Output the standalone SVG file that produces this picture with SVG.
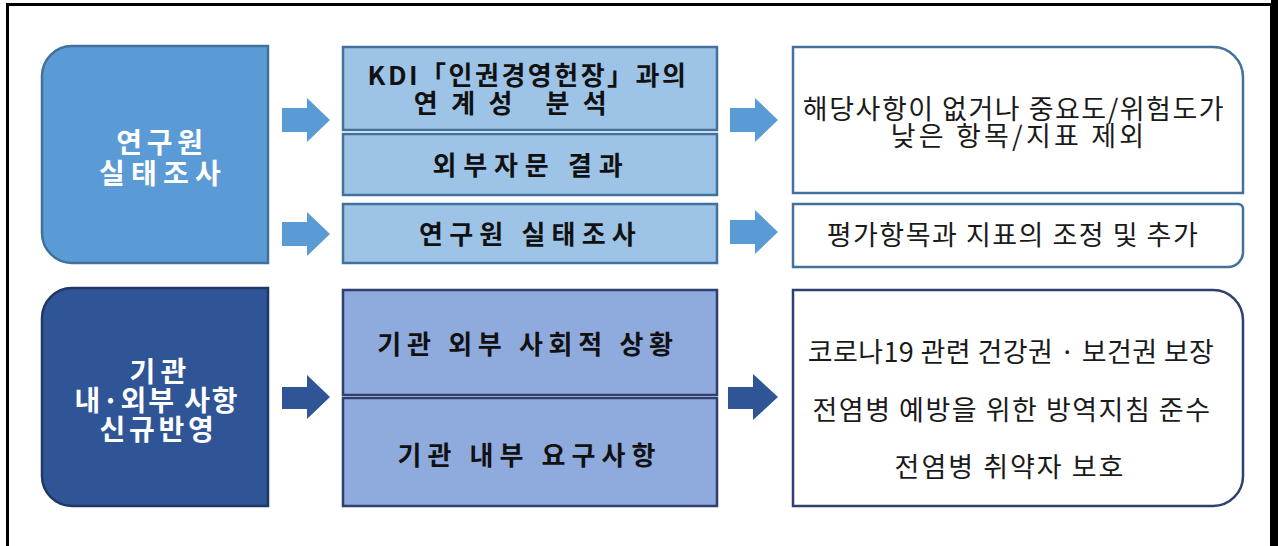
<svg xmlns="http://www.w3.org/2000/svg" width="1278" height="546" viewBox="0 0 1278 546">
<style>
.t{font-family:"Noto Sans CJK KR","Noto Sans",sans-serif;text-anchor:middle}
.w{fill:#ffffff;font-weight:700;font-size:28px}
.b{fill:#111111;font-weight:700;font-size:26px;letter-spacing:6px}
.r{fill:#1a1a1a;font-weight:400;font-size:27px;letter-spacing:1.5px}
.n1{fill:#5b9bd5;stroke:#41719c;stroke-width:2.5}
.n2{fill:#2f5597;stroke:#203864;stroke-width:2.5}
.m1{fill:#9dc3e6;stroke:#41719c;stroke-width:2.5}
.m2{fill:#8faadc;stroke:#2f3f6f;stroke-width:2.5}
.o1{fill:#ffffff;stroke:#41719c;stroke-width:2.5}
.o2{fill:#ffffff;stroke:#2f3f6f;stroke-width:2.5}
.a1{fill:#5b9bd5}
.a2{fill:#2f5597}
</style>
<rect width="1278" height="546" fill="#ffffff"/>
<rect x="7.5" y="4.5" width="1264" height="560" fill="none" stroke="#000000" stroke-width="3"/>
<rect x="1271" y="0" width="7" height="546" fill="#000000"/>

<g id="node-researcher-survey">
<path class="n1" d="M72,46 H268 V263 H72 A30,30 0 0 1 42,233 V76 A30,30 0 0 1 72,46 Z"/>
<text class="t w" x="162" y="153" style="letter-spacing:4.8px">연구원</text>
<text class="t w" x="163" y="184" style="letter-spacing:6.3px">실태조사</text>
</g>
<g id="node-kdi">
<rect class="m1" x="343" y="47" width="374" height="83"/>
<text class="t b" x="528" y="85" style="letter-spacing:2.5px">KDI「인권경영헌장」과의</text>
<text class="t b" x="517" y="113" style="letter-spacing:13.5px">연계성 분석</text>
</g>
<g id="node-external-advice">
<rect class="m1" x="343" y="134" width="374" height="61"/>
<text class="t b" x="531" y="175" style="letter-spacing:6.8px">외부자문 결과</text>
</g>
<g id="node-survey">
<rect class="m1" x="343" y="204" width="374" height="59"/>
<text class="t b" x="530.5" y="244" style="letter-spacing:6.2px">연구원 실태조사</text>
</g>
<g id="node-exclude">
<path class="o1" d="M793,47 H1213 A30,30 0 0 1 1243,77 V193 H793 Z"/>
<text class="t r" x="1014" y="119">해당사항이 없거나 중요도/위험도가</text>
<text class="t r" x="1019" y="146" style="letter-spacing:3.2px">낮은 항목/지표 제외</text>
</g>
<g id="node-adjust">
<path class="o1" d="M793,204 H1238 A5,5 0 0 1 1243,209 V252 A15,15 0 0 1 1228,267 H793 Z"/>
<text class="t r" x="1013" y="245">평가항목과 지표의 조정 및 추가</text>
</g>

<g id="node-institution">
<path class="n2" d="M72,288 H268 V506 H72 A30,30 0 0 1 42,476 V318 A30,30 0 0 1 72,288 Z"/>
<text class="t w" x="160.5" y="382" style="letter-spacing:5.3px">기관</text>
<text class="t w" x="157" y="411" style="letter-spacing:1.9px">내·외부 사항</text>
<text class="t w" x="158.5" y="440" style="letter-spacing:3.7px">신규반영</text>
</g>
<g id="node-external-social">
<rect class="m2" x="343" y="290" width="374" height="105"/>
<text class="t b" x="528" y="354" style="letter-spacing:5.7px">기관 외부 사회적 상황</text>
</g>
<g id="node-internal-req">
<rect class="m2" x="343" y="398" width="374" height="108"/>
<text class="t b" x="529.5" y="465" style="letter-spacing:6.1px">기관 내부 요구사항</text>
</g>
<g id="node-covid">
<path class="o2" d="M793,290 H1213 A30,30 0 0 1 1243,320 V476 A30,30 0 0 1 1213,506 H793 Z"/>
<text class="t r" x="1011" y="362" style="letter-spacing:0.4px">코로나19 관련 건강권 · 보건권 보장</text>
<text class="t r" x="1012" y="420">전염병 예방을 위한 방역지침 준수</text>
<text class="t r" x="1010" y="477" style="letter-spacing:2px">전염병 취약자 보호</text>
</g>

<g id="connectors">
<path class="a1" d="M282,108 H307 V98 L330,120 L307,142 V132 H282 Z"/>
<path class="a1" d="M282,222 H307 V212 L330,234 L307,256 V246 H282 Z"/>
<path class="a1" d="M730,108 H755 V98 L778,120 L755,142 V132 H730 Z"/>
<path class="a1" d="M730,220 H755 V210 L778,232 L755,254 V244 H730 Z"/>
<path class="a2" d="M282,387 H307 V375 L330,397 L307,419 V409 H282 Z"/>
<path class="a2" d="M728,387 H753 V374 L778,397 L753,420 V409 H728 Z"/>
</g>
</svg>
